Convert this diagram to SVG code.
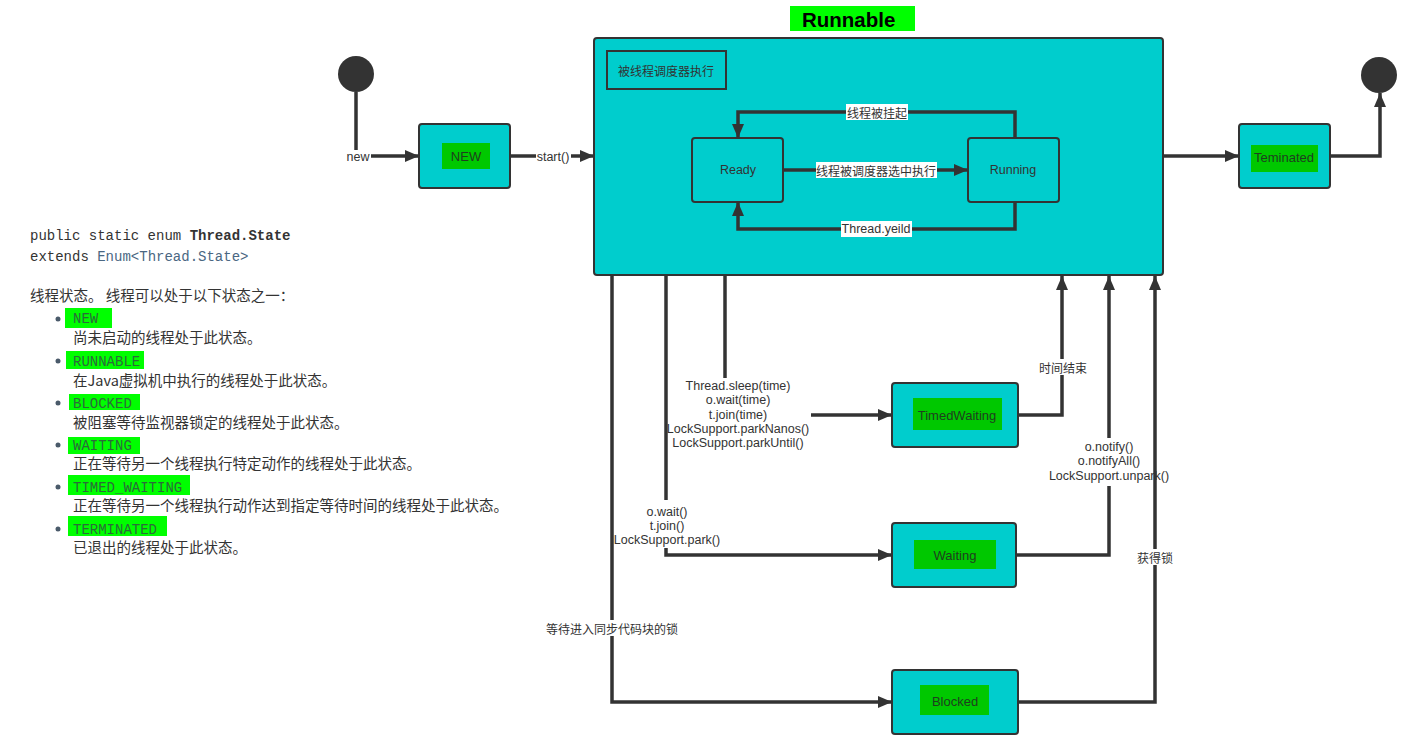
<svg xmlns="http://www.w3.org/2000/svg" width="1423" height="743" viewBox="0 0 1423 743">
<style>
.node{fill:#00CDCD;stroke:#333;stroke-width:2}
.tag{fill:#00C800}
.tagt{font-family:"Liberation Sans","Noto Sans CJK SC",sans-serif;font-size:13px;fill:#1f3f1f;text-anchor:middle;dominant-baseline:central}
.lbl{font-family:"Liberation Sans","Noto Sans CJK SC",sans-serif;font-size:12.5px;fill:#333;text-anchor:middle;dominant-baseline:central}
.cjk{font-family:"Noto Sans CJK SC",sans-serif;font-size:12px;fill:#333;text-anchor:middle;dominant-baseline:central}
.bg{fill:#fff}
.conn{fill:none;stroke:#333;stroke-width:3.5}
.mono{font-family:"Liberation Mono",monospace;font-size:14px;fill:#333}
.txt{font-family:"Noto Sans CJK SC",sans-serif;font-size:14.5px;fill:#333}
.st{font-family:"Liberation Mono",monospace;font-size:14px;fill:#2b6b3b}
.lime{fill:#00FF00}
.dot{fill:#4a5a6a}
</style>
<defs>
<marker id="arr" viewBox="0 0 14 12" refX="14" refY="6" markerWidth="14" markerHeight="12" markerUnits="userSpaceOnUse" orient="auto">
<path d="M0,0 L14,6 L0,12 z" fill="#333"/>
</marker>
</defs>
<rect width="1423" height="743" fill="#fff"/>

<!-- left panel -->
<g id="doc">
<text class="mono" x="30" y="240">public static enum <tspan font-weight="bold">Thread.State</tspan></text>
<text class="mono" x="30" y="261">extends <tspan fill="#4A6782">Enum&lt;Thread.State&gt;</tspan></text>
<text class="txt" x="30" y="301">线程状态。 线程可以处于以下状态之一：</text>
<circle class="dot" cx="58" cy="319" r="2.5"/>
<rect class="lime" x="65" y="308" width="47" height="20"/>
<text class="st" x="73" y="323">NEW</text>
<text class="txt" x="73" y="343">尚未启动的线程处于此状态。</text>
<circle class="dot" cx="58" cy="361" r="2.5"/>
<rect class="lime" x="66" y="351" width="78" height="18"/>
<text class="st" x="73" y="366">RUNNABLE</text>
<text class="txt" x="73" y="386">在Java虚拟机中执行的线程处于此状态。</text>
<circle class="dot" cx="58" cy="403" r="2.5"/>
<rect class="lime" x="69" y="394" width="71" height="16"/>
<text class="st" x="73" y="408">BLOCKED</text>
<text class="txt" x="73" y="428">被阻塞等待监视器锁定的线程处于此状态。</text>
<circle class="dot" cx="58" cy="445" r="2.5"/>
<rect class="lime" x="68" y="437" width="72" height="17"/>
<text class="st" x="73" y="450">WAITING</text>
<text class="txt" x="73" y="469">正在等待另一个线程执行特定动作的线程处于此状态。</text>
<circle class="dot" cx="58" cy="487" r="2.5"/>
<rect class="lime" x="68" y="475" width="122" height="20"/>
<text class="st" x="73" y="492">TIMED_WAITING</text>
<text class="txt" x="73" y="511">正在等待另一个线程执行动作达到指定等待时间的线程处于此状态。</text>
<circle class="dot" cx="58" cy="529" r="2.5"/>
<rect class="lime" x="68" y="516" width="99" height="20"/>
<text class="st" x="73" y="534">TERMINATED</text>
<text class="txt" x="73" y="553">已退出的线程处于此状态。</text>
</g>

<!-- nodes -->
<g id="start"><circle cx="356" cy="74" r="18" fill="#333"/></g>
<g id="end"><circle cx="1379" cy="75" r="18" fill="#333"/></g>

<g id="new">
<rect class="node" x="419" y="124" width="91" height="64" rx="3"/>
<rect class="tag" x="442" y="143" width="48" height="26"/>
<text class="tagt" x="466" y="156">NEW</text>
</g>

<g id="runnable">
<rect class="node" x="594" y="38" width="569" height="237" rx="3"/>
<rect x="607" y="51" width="119" height="38" fill="none" stroke="#333" stroke-width="2"/>
<text class="cjk" x="666" y="70">被线程调度器执行</text>
</g>
<g id="runnable-title">
<rect class="lime" x="790" y="6" width="125" height="25"/>
<text x="802" y="27" font-family="'Liberation Sans',sans-serif" font-size="20.5" font-weight="bold" fill="#000">Runnable</text>
</g>

<g id="ready">
<rect class="node" x="692" y="138" width="91" height="64" rx="3"/>
<text class="lbl" x="738" y="170">Ready</text>
</g>
<g id="running">
<rect class="node" x="968" y="138" width="91" height="64" rx="3"/>
<text class="lbl" x="1013" y="170">Running</text>
</g>

<g id="terminated">
<rect class="node" x="1239" y="124" width="91" height="64" rx="3"/>
<rect class="tag" x="1251" y="145" width="67" height="27"/>
<text class="tagt" x="1284" y="157">Teminated</text>
</g>

<g id="timedwaiting">
<rect class="node" x="892" y="383" width="126" height="64" rx="3"/>
<rect class="tag" x="913" y="398" width="89" height="32"/>
<text class="tagt" x="957" y="415">TimedWaiting</text>
</g>

<g id="waiting">
<rect class="node" x="892" y="523" width="124" height="64" rx="3"/>
<rect class="tag" x="914" y="540" width="82" height="29"/>
<text class="tagt" x="955" y="555">Waiting</text>
</g>

<g id="blocked">
<rect class="node" x="892" y="670" width="126" height="64" rx="3"/>
<rect class="tag" x="920" y="685" width="69" height="30"/>
<text class="tagt" x="955" y="701">Blocked</text>
</g>

<!-- connectors -->
<g id="connectors">
<path class="conn" d="M356,92 V156 H419" marker-end="url(#arr)"/>
<path class="conn" d="M510,156 H594" marker-end="url(#arr)"/>
<path class="conn" d="M783,170 H968" marker-end="url(#arr)"/>
<path class="conn" d="M1015,138 V112 H738 V138" marker-end="url(#arr)"/>
<path class="conn" d="M1015,202 V229 H738 V202" marker-end="url(#arr)"/>
<path class="conn" d="M1163,156 H1239" marker-end="url(#arr)"/>
<path class="conn" d="M1330,156 H1380 V93" marker-end="url(#arr)"/>
<path class="conn" d="M725,275 V378"/>
<path class="conn" d="M811,415 H892" marker-end="url(#arr)"/>
<path class="conn" d="M1018,415 H1062 V276" marker-end="url(#arr)"/>
<path class="conn" d="M666,275 V500"/>
<path class="conn" d="M666,548 V555 H892" marker-end="url(#arr)"/>
<path class="conn" d="M1016,555 H1109 V486"/>
<path class="conn" d="M1109,438 V276" marker-end="url(#arr)"/>
<path class="conn" d="M612,275 V702 H892" marker-end="url(#arr)"/>
<path class="conn" d="M1018,702 H1155 V276" marker-end="url(#arr)"/>

<rect class="bg" x="345" y="150" width="26" height="14"/>
<text class="lbl" x="358" y="157">new</text>
<rect class="bg" x="536" y="150" width="35" height="14"/>
<text class="lbl" x="553" y="157">start()</text>
<rect class="bg" x="846" y="104" width="62" height="16"/>
<text class="cjk" x="877" y="112">线程被挂起</text>
<rect class="bg" x="816" y="162" width="121" height="16"/>
<text class="cjk" x="876" y="170">线程被调度器选中执行</text>
<rect class="bg" x="841" y="221" width="71" height="16"/>
<text class="lbl" x="876" y="229">Thread.yeild</text>

<text class="lbl" x="738" y="386">Thread.sleep(time)</text>
<text class="lbl" x="738" y="400">o.wait(time)</text>
<text class="lbl" x="738" y="415">t.join(time)</text>
<text class="lbl" x="738" y="429">LockSupport.parkNanos()</text>
<text class="lbl" x="738" y="443">LockSupport.parkUntil()</text>

<rect class="bg" x="1038" y="359" width="50" height="16"/>
<text class="cjk" x="1063" y="367">时间结束</text>

<text class="lbl" x="667" y="512">o.wait()</text>
<text class="lbl" x="667" y="526">t.join()</text>
<text class="lbl" x="667" y="540">LockSupport.park()</text>

<text class="lbl" x="1109" y="447">o.notify()</text>
<text class="lbl" x="1109" y="461">o.notifyAll()</text>
<text class="lbl" x="1109" y="476">LockSupport.unpark()</text>

<rect class="bg" x="1136" y="549" width="38" height="16"/>
<text class="cjk" x="1155" y="557">获得锁</text>

<rect class="bg" x="545" y="620" width="134" height="16"/>
<text class="cjk" x="612" y="628">等待进入同步代码块的锁</text>
</g>
</svg>
